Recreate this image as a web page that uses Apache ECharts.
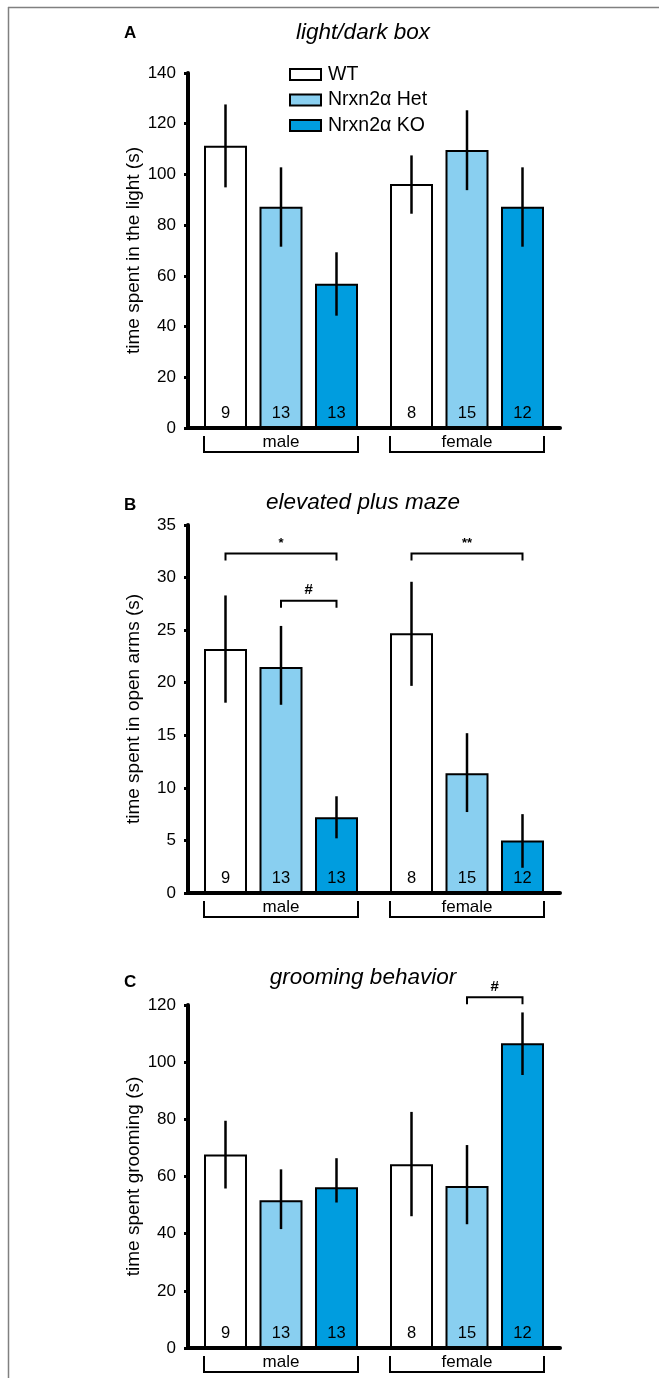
<!DOCTYPE html>
<html>
<head>
<meta charset="utf-8">
<script src="https://cdn.jsdelivr.net/npm/echarts@6/dist/echarts.min.js"></script>
<style>
  html, body { margin: 0; padding: 0; background: #fff; }
  #main { width: 659px; height: 1378px; }
</style>
</head>
<body>
<div id="main"></div>
<script>
// ---- data ----
const groups = ['male', 'female'];
const genotypes = ['WT', 'Nrxn2α Het', 'Nrxn2α KO'];
const nCounts = [[9, 8], [13, 15], [13, 12]];

// light/dark box, one row per genotype: [male, female]
const lightMean = [[111.3, 96.2], [87.3, 109.6], [56.9, 87.3]];
const lightLow  = [[94.9, 84.5], [71.5, 93.8], [44.3, 71.5]];
const lightHigh = [[127.6, 107.5], [102.8, 125.3], [69.3, 102.8]];

// elevated plus maze
const plusMean = [[23.2, 24.7], [21.5, 11.4], [7.2, 5.0]];
const plusLow  = [[18.1, 19.7], [17.9, 7.7], [5.2, 2.4]];
const plusHigh = [[28.3, 29.6], [25.4, 15.2], [9.2, 7.5]];

// grooming
const groomMean = [[67.7, 64.3], [51.7, 56.7], [56.2, 106.6]];
const groomLow  = [[55.8, 46.1], [41.6, 43.3], [50.9, 95.5]];
const groomHigh = [[79.5, 82.6], [62.5, 71.0], [66.4, 117.4]];

// significance brackets: [group, fromBar, toBar, yValue, text]
const plusSig = [[0, 0, 2, 32.3, '*'], [0, 1, 2, 27.8, '#'], [1, 0, 2, 32.3, '**']];
const groomSig = [[1, 1, 2, 122.7, '#']];

// ---- layout ----
const FONT = 'Liberation Sans, Arial, sans-serif';
const colors = ['#ffffff', '#89cff0', '#009ddf'];
const BAR_W = 43;
const GAP_PX = 12.5;
const STEP = BAR_W + GAP_PX;

const panels = [
  { letter: 'A', title: 'light/dark box', yName: 'time spent in the light (s)',
    top: 73, height: 355, max: 140, interval: 20,
    mean: lightMean, low: lightLow, high: lightHigh, sig: [],
    titleY: 33, letterY: 33 },
  { letter: 'B', title: 'elevated plus maze', yName: 'time spent in open arms (s)',
    top: 525, height: 368, max: 35, interval: 5,
    mean: plusMean, low: plusLow, high: plusHigh, sig: plusSig,
    titleY: 503, letterY: 505 },
  { letter: 'C', title: 'grooming behavior', yName: 'time spent grooming (s)',
    top: 1005, height: 343, max: 120, interval: 20,
    mean: groomMean, low: groomLow, high: groomHigh, sig: groomSig,
    titleY: 978, letterY: 982 }
];

const grid = [], xAxis = [], yAxis = [], series = [], title = [];

panels.forEach(function (p, gi) {
  grid.push({ left: 188, top: p.top, width: 372, height: p.height });

  xAxis.push({
    type: 'category', gridIndex: gi, data: groups,
    axisLine: { lineStyle: { color: '#000', width: 4 } },
    axisTick: { show: false },
    axisLabel: { color: '#000', fontSize: 17, fontFamily: FONT, margin: 6 }
  });

  yAxis.push({
    type: 'value', gridIndex: gi, min: 0, max: p.max, interval: p.interval,
    name: p.yName, nameLocation: 'middle', nameRotate: 90, nameGap: 45,
    nameMoveOverlap: false,
    nameTextStyle: { color: '#000', fontSize: 19, fontFamily: FONT },
    axisLine: { show: true, lineStyle: { color: '#000', width: 4 } },
    axisTick: { show: true, length: 4, lineStyle: { color: '#000', width: 3 } },
    axisLabel: { color: '#000', fontSize: 17, fontFamily: FONT, margin: 12 },
    splitLine: { show: false }
  });

  title.push({
    text: p.title, left: 363, top: p.titleY - 12, textAlign: 'center', padding: 0,
    textStyle: { fontSize: 22.5, fontStyle: 'italic', fontWeight: 'normal',
      color: '#000', fontFamily: FONT, lineHeight: 24 }
  });
  title.push({
    text: p.letter, left: 124, top: p.letterY - 9, padding: 0,
    textStyle: { fontSize: 17, fontWeight: 'bold', color: '#000',
      fontFamily: FONT, lineHeight: 18 }
  });

  // bars
  genotypes.forEach(function (g, k) {
    series.push({
      name: g, type: 'bar', xAxisIndex: gi, yAxisIndex: gi,
      data: p.mean[k], barWidth: BAR_W, barGap: (GAP_PX / BAR_W * 100) + '%',
      itemStyle: { color: colors[k], borderColor: '#000', borderWidth: 2 },
      label: {
        show: true, position: 'insideBottom', distance: 6,
        fontSize: 16.5, fontFamily: FONT, color: '#000',
        formatter: function (prm) { return String(nCounts[k][prm.dataIndex]); }
      },
      emphasis: { disabled: true },
      z: 2
    });
  });

  // error bars
  genotypes.forEach(function (g, k) {
    series.push({
      type: 'custom', xAxisIndex: gi, yAxisIndex: gi, z: 5, silent: true,
      data: groups.map(function (_, i) { return [i, p.low[k][i], p.high[k][i]]; }),
      renderItem: function (params, api) {
        const x = api.coord([api.value(0), 0])[0] + (k - 1) * STEP;
        const y1 = api.coord([api.value(0), api.value(2)])[1];
        const y2 = api.coord([api.value(0), api.value(1)])[1];
        return { type: 'line', shape: { x1: x, y1: y1, x2: x, y2: y2 },
          style: { stroke: '#000', lineWidth: 2.5 } };
      }
    });
  });

  // group brackets under the axis
  series.push({
    type: 'custom', xAxisIndex: gi, yAxisIndex: gi, z: 5, silent: true,
    data: groups.map(function (_, i) { return [i]; }),
    renderItem: function (params, api) {
      const c = api.coord([api.value(0), 0]);
      const half = 1.5 * BAR_W + GAP_PX;
      const yTop = c[1] + 8, yBot = c[1] + 24;
      return { type: 'polyline',
        shape: { points: [[c[0] - half, yTop], [c[0] - half, yBot], [c[0] + half, yBot], [c[0] + half, yTop]] },
        style: { stroke: '#000', lineWidth: 2, fill: null } };
    }
  });

  // significance brackets
  if (p.sig.length) {
    series.push({
      type: 'custom', xAxisIndex: gi, yAxisIndex: gi, z: 5, silent: true,
      data: p.sig.map(function (s) { return [s[0], s[1], s[2], s[3]]; }),
      renderItem: function (params, api) {
        const s = p.sig[params.dataIndex];
        const c = api.coord([api.value(0), api.value(3)]);
        const xa = c[0] + (api.value(1) - 1) * STEP;
        const xb = c[0] + (api.value(2) - 1) * STEP;
        const y = c[1];
        return { type: 'group', children: [
          { type: 'polyline',
            shape: { points: [[xa, y + 7], [xa, y], [xb, y], [xb, y + 7]] },
            style: { stroke: '#000', lineWidth: 2, fill: null } },
          { type: 'text',
            style: { text: s[4], x: (xa + xb) / 2, y: y - 3, align: 'center', verticalAlign: 'bottom',
              fontSize: s[4] === '#' ? 15 : 13, fontWeight: 'bold', fontFamily: FONT, fill: '#000' } }
        ] };
      }
    });
  }
});

const chart = echarts.init(document.getElementById('main'), null, { renderer: 'canvas' });
chart.setOption({
  backgroundColor: '#fff',
  animation: false,
  title: title,
  legend: {
    data: genotypes, orient: 'vertical', left: 289, top: 64.5, padding: 0,
    itemWidth: 31, itemHeight: 11, itemGap: 5.5, icon: 'rect',
    itemStyle: { borderColor: '#000', borderWidth: 2 },
    textStyle: { fontSize: 19.5, fontFamily: FONT, color: '#000', lineHeight: 19, padding: [0, 0, 0, 2] },
    selectedMode: false
  },
  grid: grid,
  xAxis: xAxis,
  yAxis: yAxis,
  series: series,
  graphic: [
    { type: 'line', shape: { x1: 8, y1: 7.5, x2: 659, y2: 7.5 },
      style: { stroke: '#808080', lineWidth: 1.5 }, silent: true },
    { type: 'line', shape: { x1: 8.5, y1: 7, x2: 8.5, y2: 1378 },
      style: { stroke: '#808080', lineWidth: 1.5 }, silent: true }
  ]
});
</script>
</body>
</html>
